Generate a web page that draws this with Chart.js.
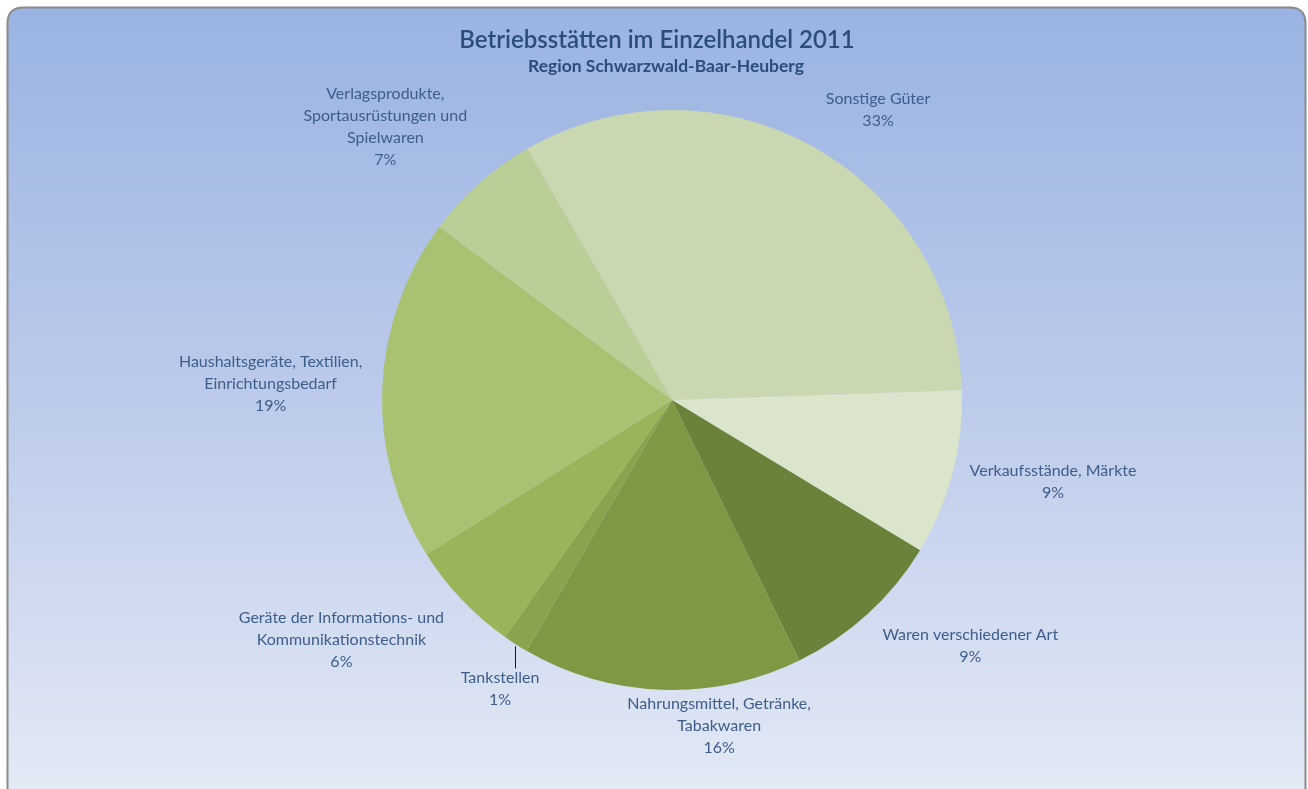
<!DOCTYPE html>
<html>
<head>
<meta charset="utf-8">
<script src="https://cdn.jsdelivr.net/npm/chart.js@4/dist/chart.umd.min.js"></script>
<style>
  html, body { margin: 0; padding: 0; background: #fff; }
  #wrap { width: 1308px; height: 789px; position: relative; }
</style>
</head>
<body>
<div id="wrap"><canvas id="pieChart" width="1308" height="789"></canvas></div>
<script>
// categories (line-broken as in the chart)
const categories = [
    ['Sonstige Güter'],
    ['Verkaufsstände, Märkte'],
    ['Waren verschiedener Art'],
    ['Nahrungsmittel, Getränke,', 'Tabakwaren'],
    ['Tankstellen'],
    ['Geräte der Informations- und', 'Kommunikationstechnik'],
    ['Haushaltsgeräte, Textilien,', 'Einrichtungsbedarf'],
    ['Verlagsprodukte,', 'Sportausrüstungen und', 'Spielwaren']
];
// share of establishments in percent
const shares = [32.8, 9.2, 9.1, 15.6, 1.4, 6.3, 19.1, 6.5];
const sliceColors = ['#cad8b1', '#dbe5cb', '#6a833a', '#7e9944', '#88a54e', '#99b459', '#a9c272', '#bacf96'];

// label fine placement (px) and leader line flags
const labelNudge = [[36, -10], [12, 1], [38, 10], [61, -5], [10, 19], [-40, 12], [-12, -3], [-34, -18]];
const leaderLine = [false, false, false, false, true, false, false, false];

const labelFont = '16px Lato, "Open Sans", sans-serif';
const labelColor = '#3d5d8a';
const lineH = 22;

const backgroundPlugin = {
    id: 'frame',
    beforeDraw(chart) {
        const ctx = chart.ctx;
        const x = 7.5, y = 7.5, w = 1298, h = 810, r = 16;
        ctx.save();
        const g = ctx.createLinearGradient(0, y, 0, 789);
        g.addColorStop(0, '#9ab3e2');
        g.addColorStop(0.5, '#bccbeb');
        g.addColorStop(1, '#e3e9f5');
        ctx.beginPath();
        ctx.moveTo(x + r, y);
        ctx.lineTo(x + w - r, y);
        ctx.quadraticCurveTo(x + w, y, x + w, y + r);
        ctx.lineTo(x + w, y + h);
        ctx.lineTo(x, y + h);
        ctx.lineTo(x, y + r);
        ctx.quadraticCurveTo(x, y, x + r, y);
        ctx.closePath();
        ctx.fillStyle = g;
        ctx.fill();
        ctx.strokeStyle = '#8a8a8a';
        ctx.lineWidth = 2;
        ctx.stroke();

        ctx.fillStyle = '#2b4d79';
        ctx.textAlign = 'center';
        ctx.textBaseline = 'middle';
        ctx.font = '600 24px Lato, "Open Sans", sans-serif';
        ctx.fillText('Betriebsstätten im Einzelhandel 2011', 657, 40);
        ctx.font = 'bold 17.5px Lato, "Open Sans", sans-serif';
        ctx.fillText('Region Schwarzwald-Baar-Heuberg', 666, 66);
        ctx.restore();
    }
};

const labelPlugin = {
    id: 'outsideLabels',
    afterDatasetsDraw(chart) {
        const ctx = chart.ctx;
        const meta = chart.getDatasetMeta(0);
        const total = shares.reduce((a, b) => a + b, 0);
        ctx.save();
        ctx.font = labelFont;
        ctx.fillStyle = labelColor;
        ctx.textAlign = 'center';
        ctx.textBaseline = 'middle';
        meta.data.forEach((arc, i) => {
            const p = arc.getProps(['x', 'y', 'startAngle', 'endAngle', 'outerRadius'], true);
            const mid = (p.startAngle + p.endAngle) / 2;
            const cos = Math.cos(mid), sin = Math.sin(mid);
            const lines = categories[i].concat([Math.round(shares[i] / total * 100) + '%']);
            const w = Math.max(...lines.map(t => ctx.measureText(t).width));
            const h = lines.length * lineH;
            const ax = p.x + cos * (p.outerRadius + 8);
            const ay = p.y + sin * (p.outerRadius + 8);
            const cx = ax + cos * w / 2 + labelNudge[i][0];
            const cy = ay + sin * h / 2 + labelNudge[i][1];
            if (leaderLine[i]) {
                const ex = p.x + cos * (p.outerRadius + 2);
                ctx.strokeStyle = '#1a1a1a';
                ctx.lineWidth = 1;
                ctx.beginPath();
                ctx.moveTo(Math.round(ex) + 0.5, p.y + sin * p.outerRadius + 2);
                ctx.lineTo(Math.round(ex) + 0.5, cy - h / 2 + 2);
                ctx.stroke();
            }
            lines.forEach((t, k) => {
                ctx.fillText(t, cx, cy - h / 2 + lineH / 2 + k * lineH);
            });
        });
        ctx.restore();
    }
};

new Chart(document.getElementById('pieChart'), {
    type: 'pie',
    data: {
        labels: categories,
        datasets: [{
            data: shares,
            backgroundColor: sliceColors,
            borderWidth: 0
        }]
    },
    options: {
        responsive: false,
        animation: false,
        rotation: -30,
        layout: { padding: { left: 250, right: 214, top: 110, bottom: 99 } },
        plugins: {
            legend: { display: false },
            tooltip: { enabled: false }
        }
    },
    plugins: [backgroundPlugin, labelPlugin]
});
</script>
</body>
</html>
